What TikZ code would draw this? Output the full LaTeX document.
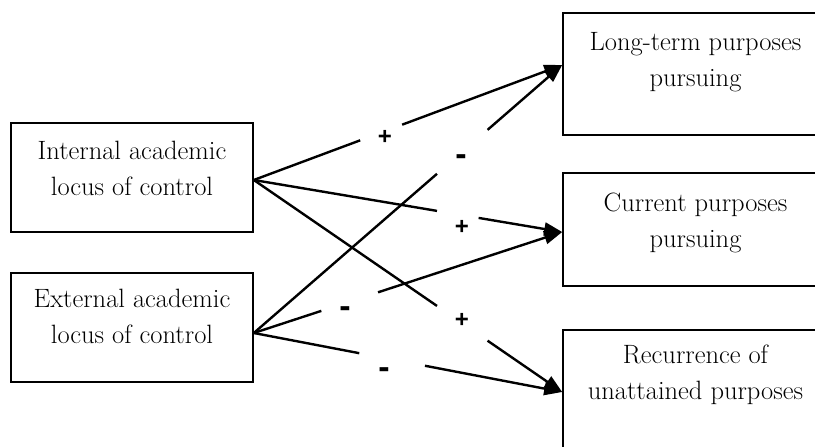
\documentclass[tikz,border=0pt]{standalone}
\usepackage{fontspec}
\newfontfamily\lblfont{Liberation Sans}
\usetikzlibrary{arrows.meta,calc}
\tikzset{
  boxnode/.style={draw=black, line width=1.6pt, fill=none, inner sep=0pt},
  boxtext/.style={align=center, inner sep=0pt, font=\fontsize{26.5}{36}\selectfont, anchor=base},
  conn/.style={line width=2.4pt, line cap=butt},
  arr/.style={conn, -{Triangle[length=18pt,width=13pt]}},
  plus/.style={inner sep=0pt, font=\lblfont\bfseries\fontsize{24}{24}\selectfont},
  minus/.style={inner sep=0pt, font=\lblfont\bfseries\fontsize{34}{34}\selectfont}
}
\begin{document}
\begin{tikzpicture}[x=1pt,y=-1pt]
\useasboundingbox (0,0) rectangle (815,447);
\clip (0,0) rectangle (815,447);
% boxes
\node[boxnode, minimum width=242pt, minimum height=109pt] (int) at (132,177.5) {};
\node[boxnode, minimum width=242pt, minimum height=109pt] (ext) at (132,327.5) {};
\node[boxnode, minimum width=265pt, minimum height=122pt] (lt) at (695.5,74) {};
\node[boxnode, minimum width=265pt, minimum height=113pt] (cur) at (695.5,229.5) {};
\node[boxnode, minimum width=265pt, minimum height=122pt] (rec) at (695.5,391) {};
% texts (base anchor = baseline of the last line)
\node[boxtext] (intT) at ($(int.north)+(0,73)$) {Internal academic\\locus of control};
\node[boxtext] (extT) at ($(ext.north)+(0,71)$) {External academic\\locus of control};
\node[boxtext] (ltT) at ($(lt.north)+(0,74)$) {Long-term purposes\\pursuing};
\node[boxtext] (curT) at ($(cur.north)+(0,75)$) {Current purposes\\pursuing};
\node[boxtext] (recT) at ($(rec.north)+(0,70)$) {Recurrence of\\unattained purposes};
% connector ends
\coordinate (intS) at ($(int.east)+(0,2.5)$);
\coordinate (extS) at ($(ext.east)+(0,5.5)$);
\coordinate (ltE) at ($(lt.west)+(0,-9)$);
\coordinate (curE) at ($(cur.west)+(0,2.5)$);
\coordinate (recE) at ($(rec.west)+(0,1)$);
% gap coordinates
\path (intS) -- (ltE) coordinate[pos=0.345] (g1a) coordinate[pos=0.481] (g1b);
\path (intS) -- (curE) coordinate[pos=0.594] (g2a) coordinate[pos=0.729] (g2b);
\path (intS) -- (recE) coordinate[pos=0.594] (g3a) coordinate[pos=0.758] (g3b);
\path (extS) -- (ltE) coordinate[pos=0.594] (g4a) coordinate[pos=0.758] (g4b);
\path (extS) -- (curE) coordinate[pos=0.219] (g5a) coordinate[pos=0.403] (g5b);
\path (extS) -- (recE) coordinate[pos=0.342] (g6a) coordinate[pos=0.555] (g6b);
% connectors
\draw[conn] (intS) -- (g1a); \draw[arr] (g1b) -- (ltE);
\draw[conn] (intS) -- (g2a); \draw[arr] (g2b) -- (curE);
\draw[conn] (intS) -- (g3a); \draw[arr] (g3b) -- (recE);
\draw[conn] (extS) -- (g4a); \draw[arr] (g4b) -- (ltE);
\draw[conn] (extS) -- (g5a); \draw[arr] (g5b) -- (curE);
\draw[conn] (extS) -- (g6a); \draw[arr] (g6b) -- (recE);
% labels
\node[plus] (l1) at (385,137) {+};
\node[plus] (l2) at (462,227) {+};
\node[plus] (l3) at (462,320) {+};
\node[minus] (l4) at (461,160) {-};
\node[minus] (l5) at (345,312) {-};
\node[minus] (l6) at (384,373) {-};
\end{tikzpicture}
\end{document}
